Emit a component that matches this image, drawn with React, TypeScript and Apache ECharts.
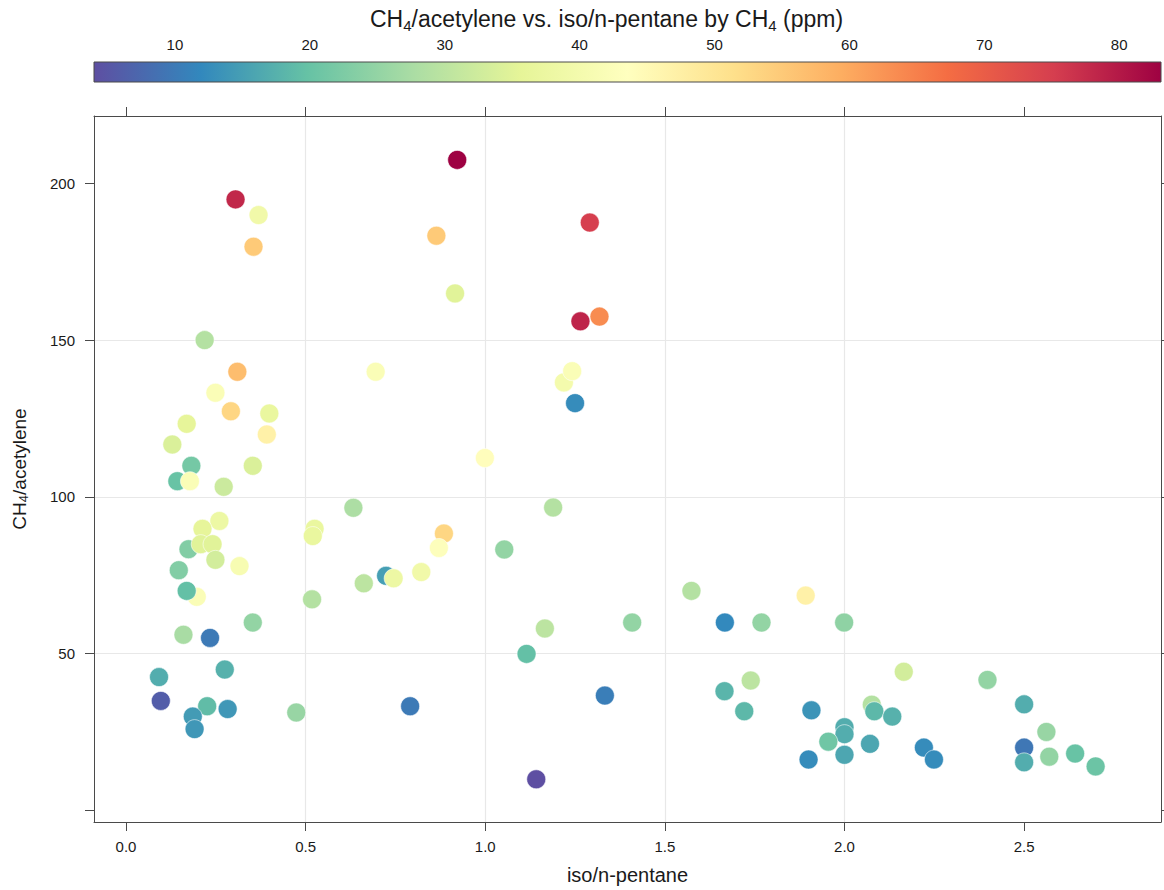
import React, { useEffect, useRef } from "react";
import * as echarts from "echarts";

// iso/n-pentane ratio for each sample
const isoPentane = [
  0.305, 0.369, 0.355, 0.219, 0.31, 0.249, 0.292, 0.399, 0.169, 0.392,
  0.129, 0.182, 0.353, 0.143, 0.178, 0.272, 0.695, 0.633, 0.26, 0.213,
  0.525, 0.52, 0.174, 0.208, 0.241, 0.249, 0.316, 0.147, 0.197, 0.169,
  0.518, 0.662, 0.724, 0.745, 0.353, 0.16, 0.234, 0.092, 0.275, 0.097,
  0.226, 0.283, 0.186, 0.191, 0.474, 0.922, 0.864, 1.291, 0.916, 1.318,
  1.265, 1.219, 1.242, 1.25, 0.999, 0.885, 0.871, 0.822, 1.189, 1.053,
  1.574, 1.166, 1.409, 1.667, 1.769, 1.115, 0.791, 1.333, 1.739, 1.666,
  1.721, 1.142, 1.892, 1.999, 2.165, 2.398, 2.5, 1.908, 2.076, 2.083,
  2.133, 2.0, 2.0, 1.955, 2.071, 2.221, 2.249, 1.9, 2.0, 2.5,
  2.5, 2.562, 2.57, 2.642, 2.699,
];

// CH4/acetylene ratio for each sample
const ch4Acetylene = [
  194.9, 189.9, 179.8, 150.0, 139.9, 133.2, 127.3, 126.6, 123.3, 119.9,
  116.7, 109.9, 109.9, 105.0, 105.0, 103.2, 139.9, 96.5, 92.3, 89.8,
  89.8, 87.5, 83.3, 84.9, 84.9, 79.9, 77.9, 76.6, 68.1, 70.0,
  67.3, 72.4, 74.8, 74.0, 59.9, 56.0, 55.0, 42.5, 44.9, 34.9,
  33.2, 32.3, 29.9, 25.9, 31.2, 207.5, 183.3, 187.5, 164.9, 157.5,
  156.0, 136.5, 140.1, 129.9, 112.4, 88.3, 83.7, 76.0, 96.6, 83.2,
  70.0, 58.0, 59.9, 59.9, 59.9, 49.9, 33.2, 36.6, 41.4, 38.0,
  31.6, 9.9, 68.5, 59.9, 44.2, 41.6, 33.8, 31.9, 33.7, 31.6,
  29.9, 26.5, 24.3, 21.9, 21.2, 20.0, 16.2, 16.2, 17.7, 20.0,
  15.3, 25.0, 17.1, 18.1, 14.0,
];

// CH4 concentration (ppm) for each sample, used for the colour scale
const ch4Ppm = [
  78, 39, 55, 29, 57, 42, 53, 37, 36, 47,
  34, 21.5, 34, 20, 42, 32, 42, 28, 38, 36,
  37, 37, 23, 35, 35, 33, 41, 23, 42, 19.5,
  29, 30, 15, 38, 25, 27.5, 10, 17, 17.5, 6,
  19, 14, 14.5, 14, 25.5, 83.1, 55, 75, 35, 63.5,
  78.5, 40, 42, 12.5, 44, 53, 43, 39, 29, 25,
  29, 30, 25, 12, 25, 19.5, 10, 10.5, 30, 18,
  18.5, 4.0, 47, 24.5, 33, 25, 17, 13.5, 29, 18.5,
  17.5, 17, 17, 21, 16, 12.5, 12.5, 12.5, 16, 9.5,
  17, 25.5, 25, 20, 20.5,
];

const xTicks = [0, 0.5, 1, 1.5, 2, 2.5];
const yTicks = [0, 50, 100, 150, 200];
const yTickLabels = [50, 100, 150, 200];
const colorTicks = [10, 20, 30, 40, 50, 60, 70, 80];

// Reversed ColorBrewer "Spectral" ramp
const spectral = [
  "#5E4FA2", "#3288BD", "#66C2A5", "#ABDDA4", "#E6F598", "#FFFFBF",
  "#FEE08B", "#FDAE61", "#F46D43", "#D53E4F", "#9E0142",
];

const X_MIN = -0.089;
const X_MAX = 2.881;
const Y_MIN = -3.73;
const Y_MAX = 221.5;

const FONT = '"Liberation Sans", Arial, Helvetica, sans-serif';
const FRAME = "#4a4a4a";
const TEXT = "#1a1a1a";
const GRIDLINE = "#e8e8e8";

export default function App() {
  const ref = useRef<HTMLDivElement>(null);

  useEffect(() => {
    if (!ref.current) return;
    const chart = echarts.init(ref.current, undefined, { renderer: "svg" });

    const cMin = Math.min(...ch4Ppm);
    const cMax = Math.max(...ch4Ppm);
    const points = isoPentane.map((x, i) => [x, ch4Acetylene[i], ch4Ppm[i]]);

    const frameAxisLine = { show: true, onZero: false, lineStyle: { color: FRAME, width: 1 } };
    const richSub = (size: number, subSize: number, lh: number) => ({
      m: { fontSize: size, lineHeight: lh, color: TEXT, fontFamily: FONT, fontWeight: "normal" },
      s: {
        fontSize: subSize,
        lineHeight: subSize,
        verticalAlign: "bottom",
        color: TEXT,
        fontFamily: FONT,
        fontWeight: "normal",
      },
    });

    chart.setOption({
      animation: false,
      backgroundColor: "#ffffff",
      textStyle: { fontFamily: FONT },
      title: {
        text: "{m|CH}{s|4}{m|/acetylene vs. iso/n-pentane by CH}{s|4}{m| (ppm)}",
        left: 365,
        top: 0,
        textStyle: { fontWeight: "normal", rich: richSub(23, 15, 28) },
      },
      visualMap: {
        type: "continuous",
        show: false,
        seriesIndex: 0,
        dimension: 2,
        min: cMin,
        max: cMax,
        inRange: { color: spectral },
      },
      grid: [
        { left: 94, top: 116, width: 1067, height: 706, show: false },
        { left: 94, top: 62, width: 1067, height: 20, show: false },
      ],
      xAxis: [
        {
          gridIndex: 0,
          type: "value",
          position: "bottom",
          min: X_MIN,
          max: X_MAX,
          name: "iso/n-pentane",
          nameLocation: "middle",
          nameGap: 43,
          nameTextStyle: { fontSize: 20, color: TEXT, fontFamily: FONT },
          axisLine: frameAxisLine,
          axisTick: { show: true, length: 9, customValues: xTicks, lineStyle: { color: FRAME } },
          axisLabel: {
            customValues: xTicks,
            margin: 17,
            fontSize: 15,
            color: TEXT,
            formatter: (v: number) => v.toFixed(1),
          },
          splitLine: {
            show: true,
            showMinLine: false,
            showMaxLine: false,
            lineStyle: { color: GRIDLINE, width: 1.2 },
          },
        },
        {
          gridIndex: 0,
          type: "value",
          position: "top",
          min: X_MIN,
          max: X_MAX,
          axisLine: frameAxisLine,
          axisTick: { show: true, length: 9, customValues: xTicks, lineStyle: { color: FRAME } },
          axisLabel: { show: false },
          splitLine: { show: false },
        },
        {
          gridIndex: 1,
          type: "value",
          position: "top",
          min: cMin,
          max: cMax,
          axisLine: { show: false },
          axisTick: { show: true, length: 6, customValues: colorTicks, lineStyle: { color: FRAME } },
          axisLabel: { customValues: colorTicks, margin: 10, fontSize: 15, color: TEXT },
          splitLine: { show: false },
        },
      ],
      yAxis: [
        {
          gridIndex: 0,
          type: "value",
          position: "left",
          min: Y_MIN,
          max: Y_MAX,
          name: "{m|CH}{s|4}{m|/acetylene}",
          nameLocation: "middle",
          nameGap: 64,
          nameTextStyle: { rich: richSub(19, 13, 22) },
          axisLine: frameAxisLine,
          axisTick: { show: true, length: 9, customValues: yTicks, lineStyle: { color: FRAME } },
          axisLabel: { customValues: yTickLabels, margin: 19, fontSize: 15, color: TEXT },
          splitLine: {
            show: true,
            showMinLine: false,
            showMaxLine: false,
            lineStyle: { color: GRIDLINE, width: 1.2 },
          },
        },
        {
          gridIndex: 0,
          type: "value",
          position: "right",
          min: Y_MIN,
          max: Y_MAX,
          axisLine: frameAxisLine,
          axisTick: { show: true, length: 9, customValues: yTicks, lineStyle: { color: FRAME } },
          axisLabel: { show: false },
          splitLine: { show: false },
        },
        {
          gridIndex: 1,
          type: "value",
          min: 0,
          max: 1,
          show: false,
        },
      ],
      series: [
        {
          type: "scatter",
          xAxisIndex: 0,
          yAxisIndex: 0,
          data: points,
          symbol: "circle",
          symbolSize: 19,
          itemStyle: { opacity: 1, borderColor: "rgba(255,255,255,0.7)", borderWidth: 0.8 },
          emphasis: { disabled: true },
        },
        {
          // colour key drawn along the key axis
          type: "custom",
          xAxisIndex: 2,
          yAxisIndex: 2,
          silent: true,
          data: [[cMin, cMax]],
          renderItem: (_params: any, api: any) => {
            const p0 = api.coord([api.value(0), 1]);
            const p1 = api.coord([api.value(1), 0]);
            return {
              type: "rect",
              shape: { x: p0[0], y: p0[1], width: p1[0] - p0[0], height: p1[1] - p0[1] },
              style: {
                fill: new echarts.graphic.LinearGradient(
                  0, 0, 1, 0,
                  spectral.map((c, i) => ({ offset: i / (spectral.length - 1), color: c }))
                ),
                stroke: FRAME,
                lineWidth: 1,
              },
            };
          },
        },
      ],
    });

    return () => chart.dispose();
  }, []);

  return (
    <div
      ref={ref}
      style={{ position: "absolute", left: 0, top: 0, width: 1164, height: 890 }}
    />
  );
}
